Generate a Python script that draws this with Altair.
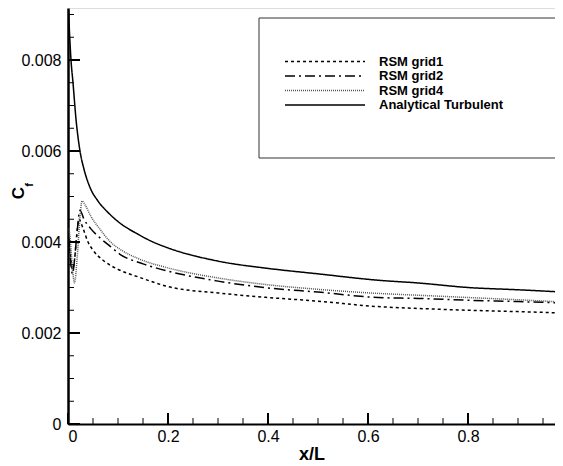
import altair as alt
import pandas as pd

# ---- data ----
series_names = ["RSM grid1", "RSM grid2", "RSM grid4", "Analytical Turbulent"]

x_grid1 = [0.002, 0.005, 0.009, 0.013, 0.017, 0.022, 0.030, 0.040, 0.050, 0.070, 0.100,
           0.144, 0.200, 0.300, 0.400, 0.500, 0.620, 0.700, 0.800, 0.900, 0.990]
cf_grid1 = [0.0040, 0.0037, 0.0034, 0.0036, 0.0041, 0.0045, 0.0043, 0.0040, 0.00382, 0.0036, 0.00340,
            0.00322, 0.00302, 0.00288, 0.00278, 0.00270, 0.00258, 0.00254, 0.00250, 0.00247, 0.00244]

x_grid2 = [0.002, 0.005, 0.009, 0.013, 0.018, 0.024, 0.032, 0.045, 0.064, 0.085, 0.104,
           0.150, 0.200, 0.300, 0.400, 0.500, 0.620, 0.700, 0.800, 0.900, 0.990]
cf_grid2 = [0.0041, 0.0036, 0.0033, 0.0036, 0.0042, 0.0047, 0.0045, 0.0043, 0.00409, 0.0039, 0.00373,
            0.00352, 0.00336, 0.00314, 0.00299, 0.00290, 0.00278, 0.00276, 0.00272, 0.00269, 0.00266]

x_grid4 = [0.002, 0.005, 0.009, 0.013, 0.018, 0.023, 0.028, 0.035, 0.045, 0.064, 0.085, 0.104,
           0.144, 0.200, 0.300, 0.400, 0.500, 0.620, 0.700, 0.800, 0.900, 0.990]
cf_grid4 = [0.0043, 0.0040, 0.0034, 0.0031, 0.0036, 0.0044, 0.0049, 0.0048, 0.00458, 0.00428, 0.00400, 0.00384,
            0.00362, 0.00343, 0.00321, 0.00306, 0.00296, 0.00287, 0.00283, 0.00278, 0.00273, 0.00268]

x_analytical = [0.001, 0.003, 0.006, 0.010, 0.016, 0.024, 0.032, 0.044, 0.060, 0.080, 0.100,
                0.140, 0.170, 0.200, 0.300, 0.400, 0.500, 0.620, 0.700, 0.800, 0.900, 0.990]
cf_analytical = [0.0091, 0.0086, 0.0080, 0.0075, 0.0067, 0.0060, 0.0056, 0.0052, 0.0049, 0.00465, 0.00445,
                 0.00417, 0.0040, 0.00387, 0.00358, 0.00342, 0.0033, 0.00316, 0.0031, 0.0030, 0.00295, 0.0029]

y_major_ticks = [0, 0.002, 0.004, 0.006, 0.008]
y_minor_ticks = [0.0005, 0.001, 0.0015, 0.0025, 0.003, 0.0035, 0.0045, 0.005, 0.0055,
                 0.0065, 0.007, 0.0075, 0.0085, 0.009]
x_major_ticks = [0, 0.2, 0.4, 0.6, 0.8]
x_minor_ticks = [0.05, 0.1, 0.15, 0.25, 0.3, 0.35, 0.45, 0.5, 0.55, 0.65, 0.7, 0.75, 0.85, 0.9, 0.95]

# ---- tables ----
frames = []
for name, xs, ys in [("RSM grid1", x_grid1, cf_grid1), ("RSM grid2", x_grid2, cf_grid2),
                     ("RSM grid4", x_grid4, cf_grid4), ("Analytical Turbulent", x_analytical, cf_analytical)]:
    frames.append(pd.DataFrame({"series": name, "x": xs, "cf": ys}))
df = pd.concat(frames, ignore_index=True)

FONT = "Liberation Sans"
W, H = 487, 416
xscale = alt.Scale(domain=[0, 0.974], nice=False, zero=False)
yscale = alt.Scale(domain=[0, 0.009143], nice=False, zero=False)

dash_scale = alt.Scale(domain=series_names, range=[[3, 3], [10, 4, 2, 4], [1, 1], [1, 0]])
color_scale = alt.Scale(domain=series_names, range=["black", "black", "#555555", "black"])
width_scale = alt.Scale(domain=series_names, range=[1.5, 1.5, 1.0, 1.6])

lines = alt.Chart(df).mark_line(clip=True, interpolate="monotone").encode(
    x=alt.X("x:Q", scale=xscale,
            axis=alt.Axis(values=x_major_ticks, ticks=False, grid=False, domainWidth=2,
                          domainColor="black", labelFont=FONT, labelFontSize=16, labelColor="black",
                          labelPadding=4, labelExpr="datum.value == 0 ? '0' : format(datum.value, '.1f')",
                          title="x/L", titleFont=FONT, titleFontSize=18, titleFontWeight="bold",
                          titleColor="black", titlePadding=1)),
    y=alt.Y("cf:Q", scale=yscale,
            axis=alt.Axis(values=y_major_ticks, ticks=False, grid=False, domainWidth=2.5,
                          domainColor="black", labelFont=FONT, labelFontSize=16, labelColor="black",
                          labelPadding=7, labelExpr="datum.value == 0 ? '0' : format(datum.value, '.3f')",
                          title=None)),
    strokeDash=alt.StrokeDash("series:N", scale=dash_scale, legend=None),
    color=alt.Color("series:N", scale=color_scale, legend=None),
    strokeWidth=alt.StrokeWidth("series:N", scale=width_scale, legend=None),
)

ymaj = alt.Chart(pd.DataFrame({"v": y_major_ticks})).mark_rule(color="black", strokeWidth=2).encode(
    y=alt.Y("v:Q", scale=yscale), x=alt.value(0), x2=alt.value(12))
ymin = alt.Chart(pd.DataFrame({"v": y_minor_ticks})).mark_rule(color="black", strokeWidth=1).encode(
    y=alt.Y("v:Q", scale=yscale), x=alt.value(0), x2=alt.value(6))
xmaj = alt.Chart(pd.DataFrame({"v": x_major_ticks})).mark_rule(color="black", strokeWidth=2).encode(
    x=alt.X("v:Q", scale=xscale), y=alt.value(H), y2=alt.value(H - 11))
xmin = alt.Chart(pd.DataFrame({"v": x_minor_ticks})).mark_rule(color="black", strokeWidth=1).encode(
    x=alt.X("v:Q", scale=xscale), y=alt.value(H), y2=alt.value(H - 6))

legend_box = alt.Chart(pd.DataFrame({"a": [0]})).mark_rect(
    fill="white", fillOpacity=0, stroke="#333333", strokeWidth=1).encode(
    x=alt.value(191), x2=alt.value(520), y=alt.value(10), y2=alt.value(150))

legend_layers = []
for i, name in enumerate(series_names):
    ly = 53.5 + 14.5 * i
    ldf = pd.DataFrame({"series": [name]})
    legend_layers.append(alt.Chart(ldf).mark_rule().encode(
        x=alt.value(217), x2=alt.value(297), y=alt.value(ly),
        strokeDash=alt.StrokeDash("series:N", scale=dash_scale, legend=None),
        color=alt.Color("series:N", scale=color_scale, legend=None),
        strokeWidth=alt.StrokeWidth("series:N", scale=width_scale, legend=None)))
    legend_layers.append(alt.Chart(ldf).mark_text(
        align="left", baseline="middle", font=FONT, fontSize=13, fontWeight="bold", color="black").encode(
        x=alt.value(311), y=alt.value(ly), text="series:N"))

ytitle_c = alt.Chart(pd.DataFrame({"t": ["C"]})).mark_text(
    font=FONT, fontSize=17, fontWeight="bold", angle=270, color="black",
    align="center", baseline="middle").encode(x=alt.value(-49), y=alt.value(185), text="t:N")
ytitle_f = alt.Chart(pd.DataFrame({"t": ["f"]})).mark_text(
    font=FONT, fontSize=11, fontWeight="bold", angle=270, color="black",
    align="center", baseline="middle").encode(x=alt.value(-38), y=alt.value(177), text="t:N")

chart = alt.layer(lines, ymaj, ymin, xmaj, xmin, legend_box, *legend_layers, ytitle_c, ytitle_f).properties(
    width=W, height=H,
    autosize=alt.AutoSizeParams(type="none"),
    padding={"left": 60, "top": 0, "right": 0, "bottom": 42},
).configure_view(stroke=None).configure(background="white")

chart.save("out.html", embed_options={"renderer": "svg", "actions": False})
